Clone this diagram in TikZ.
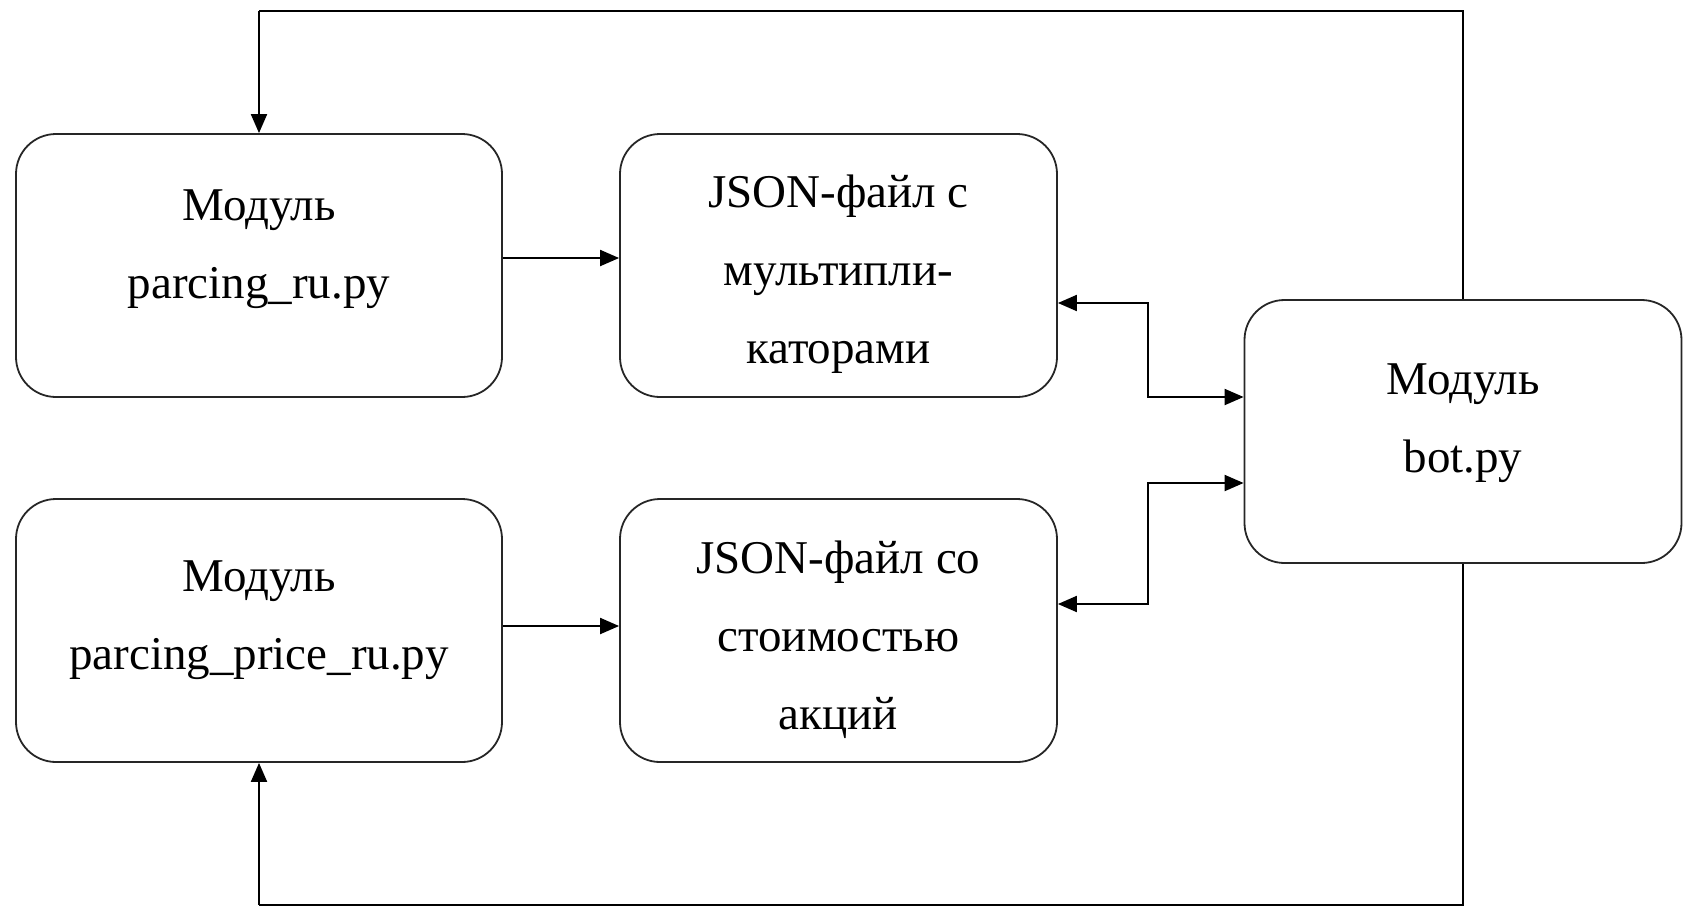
\documentclass[tikz,border=0pt]{standalone}
\usepackage{fontspec}
\setmainfont{Liberation Serif}
\usetikzlibrary{arrows.meta}

\tikzset{
  modbox/.style={draw=black!85, line width=0.9pt, rounded corners=20pt,
    minimum height=131.5pt, inner sep=0pt},
  wide/.style={minimum width=243pt},
  narrow/.style={minimum width=218.5pt},
  caption/.style={align=center, inner sep=0pt,
    font=\fontsize{23.5}{39}\selectfont},
  tip/.style={Triangle[length=9.5pt,width=8pt]},
  flow/.style={line width=1pt, -{Triangle[length=9.5pt,width=8pt]}},
  both/.style={line width=1pt, {Triangle[length=9.5pt,width=8pt]}-{Triangle[length=9.5pt,width=8pt]}},
  loop/.style={line width=0.8pt}
}

\begin{document}
\begin{tikzpicture}[x=0.5pt,y=-0.5pt]
  \useasboundingbox (0,0) rectangle (1683,907);

  % module boxes
  \node[modbox, wide]   (pru)    at (259,265.5)   {};
  \node[modbox, narrow] (jmul)   at (838.5,265.5) {};
  \node[modbox, wide]   (pprice) at (259,630.5)   {};
  \node[modbox, narrow] (jprice) at (838.5,630.5) {};
  \node[modbox, narrow] (bot)    at (1463,431.5)  {};

  % box captions
  \node[caption] (pruT)    at ([yshift=8pt]pru.center)     {Модуль\\parcing\_ru.py};
  \node[caption] (jmulT)   at ([yshift=-4.5pt]jmul.center)  {JSON-файл с\\мульти\-пли-\\каторами};
  \node[caption] (ppriceT) at ([yshift=5pt]pprice.center)  {Модуль\\parcing\_price\_ru.py};
  \node[caption] (jpriceT) at ([yshift=-4.5pt]jprice.center) {JSON-файл со\\стоимостью\\акций};
  \node[caption] (botT)    at ([yshift=4pt]bot.center)     {Модуль\\bot.py};

  % parsers write the JSON files
  \draw[flow] (pru.east |- 0,258) -- (jmul.west |- 0,258);
  \draw[flow] (pprice.east |- 0,626) -- (jprice.west |- 0,626);

  % bot reads and updates both files
  \coordinate (jogx) at (1148,0);
  \draw[both] (jmul.east |- 0,303) -- (jogx |- 0,303) -- (jogx |- 0,397) -- (bot.west |- 0,397);
  \draw[both] (jprice.east |- 0,604) -- (jogx |- 0,604) -- (jogx |- 0,483) -- (bot.west |- 0,483);

  % bot triggers both parsers
  \coordinate (topy) at (0,11);
  \coordinate (boty) at (0,905);
  \draw[loop] (bot.north) -- (bot.north |- topy) -- (pru.north |- topy);
  \draw[flow] (pru.north |- topy) -- (pru.north);
  \draw[loop] (bot.south) -- (bot.south |- boty) -- (pprice.south |- boty);
  \draw[flow] (pprice.south |- boty) -- (pprice.south);
\end{tikzpicture}
\end{document}
